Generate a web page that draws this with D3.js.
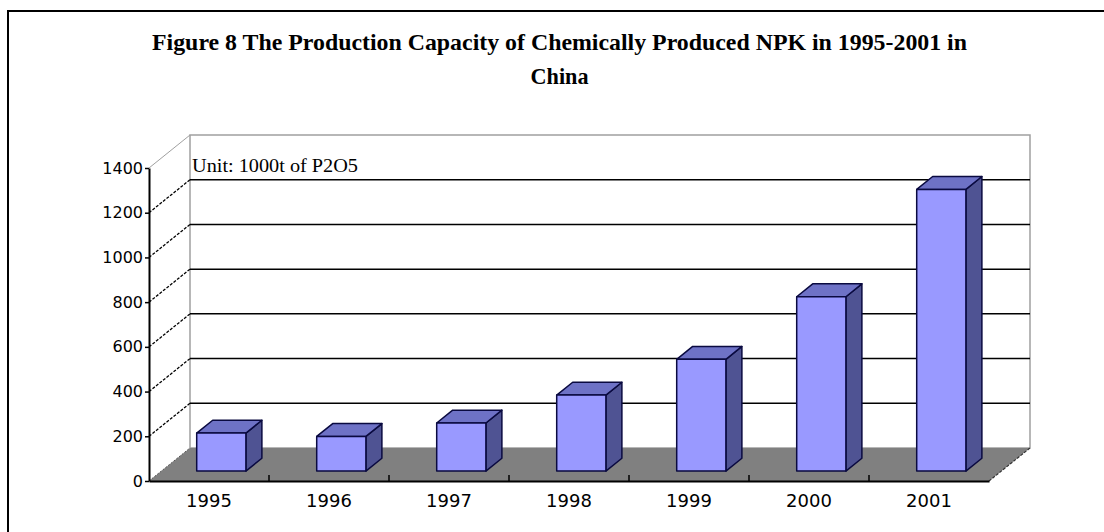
<!DOCTYPE html>
<html><head><meta charset="utf-8">
<script src="https://cdn.jsdelivr.net/npm/d3@7"></script>
<style>body{margin:0;background:#fff;}svg{display:block;}</style>
</head><body>
<svg id="c" width="1104" height="532"></svg>
<script>
const years = ["1995","1996","1997","1998","1999","2000","2001"];
const values = [170, 155, 215, 340, 500, 780, 1260];
const yTicks = [0, 200, 400, 600, 800, 1000, 1200, 1400];
const titleLines = ["Figure 8 The Production Capacity of Chemically Produced NPK in 1995-2001 in", "China"];
const unitLabel = "Unit: 1000t of P2O5";

const svg = d3.select("#c");
const W = 1104, H = 532;
svg.append("rect").attr("width", W).attr("height", H).attr("fill", "#fff");
svg.append("rect").attr("x", 8).attr("y", 11).attr("width", 1120).attr("height", 600)
  .attr("fill", "none").attr("stroke", "#000").attr("stroke-width", 2);

// title
svg.append("text").attr("x", 559.5).attr("y", 50).attr("text-anchor", "middle")
  .attr("font-family", "Liberation Serif, Times New Roman, serif").attr("font-weight", "bold")
  .attr("font-size", 24).attr("textLength", 815).attr("lengthAdjust", "spacingAndGlyphs")
  .text(titleLines[0]);
svg.append("text").attr("x", 559.5).attr("y", 84).attr("text-anchor", "middle")
  .attr("font-family", "Liberation Serif, Times New Roman, serif").attr("font-weight", "bold")
  .attr("font-size", 24).attr("textLength", 58).attr("lengthAdjust", "spacingAndGlyphs").text(titleLines[1]);

const x = d3.scaleBand().domain(years).range([149, 989]);
const y = d3.scaleLinear().domain([0, 1400]).range([481, 168]);
const DX = 41, DY = 33;
const P = (xv, v, z) => [xv + z * DX, y(v) - z * DY];
const x0 = x.range()[0], x1 = x.range()[1];
const vMax = y.domain()[1];

// back wall
const bw = [P(x0, 0, 1), P(x0, vMax, 1), P(x1, vMax, 1), P(x1, 0, 1)];
svg.append("polygon").attr("points", bw.map(p => p.join(",")).join(" "))
  .attr("fill", "#fff").attr("stroke", "#a0a0a0").attr("stroke-width", 1.5);

// gridlines on back wall
svg.append("g").selectAll("line").data(yTicks.filter(t => t > 0 && t < vMax)).join("line")
  .attr("x1", d => P(x0, d, 1)[0]).attr("y1", d => P(x0, d, 1)[1])
  .attr("x2", d => P(x1, d, 1)[0]).attr("y2", d => P(x1, d, 1)[1])
  .attr("stroke", "#000").attr("stroke-width", 1.5);

// side wall diagonals
svg.append("g").selectAll("line").data(yTicks.filter(t => t > 0)).join("line")
  .attr("x1", d => P(x0, d, 0)[0]).attr("y1", d => P(x0, d, 0)[1])
  .attr("x2", d => P(x0, d, 1)[0]).attr("y2", d => P(x0, d, 1)[1])
  .attr("stroke", d => d === vMax ? "#a0a0a0" : "#000")
  .attr("stroke-width", d => d === vMax ? 1 : 1.3)
  .attr("stroke-dasharray", d => d === vMax ? null : "3,1.5");

// floor
const fl = [P(x0, 0, 0), P(x0, 0, 1), P(x1, 0, 1), P(x1, 0, 0)];
svg.append("polygon").attr("points", fl.map(p => p.join(",")).join(" "))
  .attr("fill", "#808080");
svg.append("line").attr("x1", P(x1, 0, 0)[0]).attr("y1", P(x1, 0, 0)[1])
  .attr("x2", P(x1, 0, 1)[0]).attr("y2", P(x1, 0, 1)[1])
  .attr("stroke", "#333").attr("stroke-width", 1.2).attr("stroke-dasharray", "3,1.5");
svg.append("line").attr("x1", P(x0, 0, 0)[0]).attr("y1", P(x0, 0, 0)[1])
  .attr("x2", P(x0, 0, 1)[0]).attr("y2", P(x0, 0, 1)[1])
  .attr("stroke", "#555").attr("stroke-width", 1).attr("stroke-dasharray", "2,1.5");

// bars
const z0 = 0.30, z1 = 0.69;
const bwid = x.bandwidth() * 0.41;
const data = years.map((yr, i) => ({ yr, v: values[i] }));
const bars = svg.append("g").selectAll("g").data(data).join("g");
const xl = d => x(d.yr) + (x.bandwidth() - bwid) / 2;
const pts = arr => arr.map(p => p.join(",")).join(" ");
bars.append("polygon")
  .attr("points", d => pts([P(xl(d) + bwid, d.v, z0), P(xl(d) + bwid, d.v, z1), P(xl(d) + bwid, 0, z1), P(xl(d) + bwid, 0, z0)]))
  .attr("fill", "#4f5393").attr("stroke", "#0a0a40").attr("stroke-width", 1.5).attr("stroke-linejoin", "round");
bars.append("polygon")
  .attr("points", d => pts([P(xl(d), d.v, z0), P(xl(d), d.v, z1), P(xl(d) + bwid, d.v, z1), P(xl(d) + bwid, d.v, z0)]))
  .attr("fill", "#6e72c6").attr("stroke", "#0a0a40").attr("stroke-width", 1.5).attr("stroke-linejoin", "round");
bars.append("polygon")
  .attr("points", d => pts([P(xl(d), d.v, z0), P(xl(d) + bwid, d.v, z0), P(xl(d) + bwid, 0, z0), P(xl(d), 0, z0)]))
  .attr("fill", "#9999ff").attr("stroke", "#0a0a40").attr("stroke-width", 1.5).attr("stroke-linejoin", "round");

// unit label
svg.append("text").attr("x", 192).attr("y", 172)
  .attr("font-family", "Liberation Serif, Times New Roman, serif").attr("font-size", 19)
  .attr("textLength", 166).attr("lengthAdjust", "spacingAndGlyphs").text(unitLabel);

// y axis
const ya = svg.append("g").attr("transform", `translate(${x0},0)`)
  .call(d3.axisLeft(y).tickValues(yTicks).tickSize(4).tickSizeOuter(0).tickPadding(2).tickFormat(d3.format("d")));
ya.select(".domain").attr("stroke", "#000").attr("stroke-width", 2);
ya.selectAll(".tick line").attr("stroke", "#000").attr("stroke-width", 1.5);
ya.selectAll("text").attr("font-family", "DejaVu Sans, sans-serif").attr("font-size", 16).attr("fill", "#000");

// x axis
const xa = svg.append("g").attr("transform", `translate(0,${y(0)})`)
  .call(d3.axisBottom(x).tickSize(0).tickSizeOuter(0).tickPadding(13));
xa.select(".domain").attr("stroke", "#000").attr("stroke-width", 2);
xa.selectAll("text").attr("font-family", "DejaVu Sans, sans-serif").attr("font-size", 18).attr("fill", "#000");
svg.append("g").selectAll("line").data(years.slice(1)).join("line")
  .attr("x1", d => x(d)).attr("x2", d => x(d))
  .attr("y1", y(0)).attr("y2", y(0) - 6)
  .attr("stroke", "#000").attr("stroke-width", 1.5);
</script>
</body></html>
